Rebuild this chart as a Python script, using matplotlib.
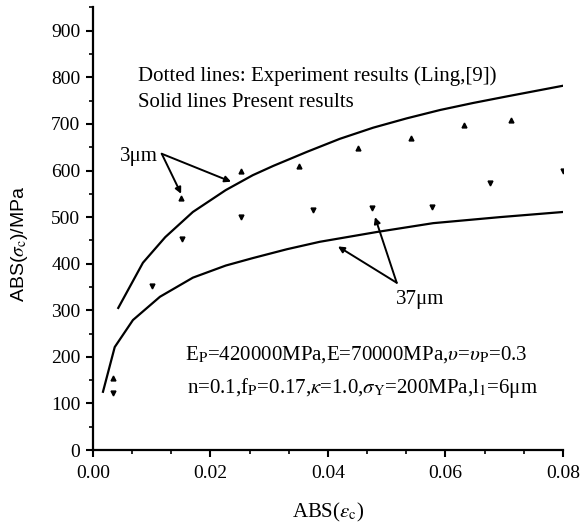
import matplotlib
matplotlib.use("Agg")
import matplotlib.pyplot as plt
from matplotlib.ticker import MultipleLocator

plt.rcParams['font.family'] = ['Liberation Serif', 'DejaVu Serif']
plt.rcParams['mathtext.fontset'] = 'stix'

# Solid line: present results, 3 um
x_3um = [0.0043, 0.0085, 0.0123, 0.0170, 0.0226, 0.0272, 0.0307, 0.0364, 0.0420,
         0.0477, 0.0534, 0.0591, 0.0647, 0.0704, 0.0800]
y_3um = [305, 402, 457, 511, 558, 590, 610, 640, 668, 692, 712, 730, 745, 759, 782]
# Solid line: present results, 37 um
x_37um = [0.0017, 0.0037, 0.0068, 0.0114, 0.0170, 0.0226, 0.0272, 0.0330, 0.0386,
          0.0483, 0.0579, 0.0693, 0.0800]
y_37um = [125, 221, 279, 329, 370, 396, 412, 431, 447, 468, 487, 500, 511]
# Experiment (Ling [9]), 3 um (up triangles)
xe_3um = [0.0034, 0.0150, 0.0252, 0.0351, 0.0451, 0.0541, 0.0631, 0.0711]
ye_3um = [155, 541, 599, 610, 649, 670, 698, 709]
# Experiment (Ling [9]), 37 um (down triangles)
xe_37um = [0.0034, 0.0101, 0.0151, 0.0252, 0.0375, 0.0475, 0.0577, 0.0676, 0.0800]
ye_37um = [122, 352, 453, 501, 515, 519, 522, 574, 598]

x_ticks = [0.00, 0.02, 0.04, 0.06, 0.08]
x_ticklabels = ['0.00', '0.02', '0.04', '0.06', '0.08']
y_ticks = [0, 100, 200, 300, 400, 500, 600, 700, 800, 900]

fig = plt.figure(figsize=(5.83, 5.24), dpi=100)
ax = fig.add_axes([0.1595, 0.1412, 0.8062, 0.8454])

ax.plot(x_3um, y_3um, color='black', lw=1.6, solid_joinstyle='round')
ax.plot(x_37um, y_37um, color='black', lw=1.6, solid_joinstyle='round')
ax.plot(xe_3um, ye_3um, linestyle='none', marker='^', color='black', markersize=3.5)
ax.plot(xe_37um, ye_37um, linestyle='none', marker='v', color='black', markersize=3.5)

ax.set_xlim(0, 0.08)
ax.set_ylim(0, 951)
ax.spines['top'].set_visible(False)
ax.spines['right'].set_visible(False)
ax.spines['left'].set_linewidth(1.6)
ax.spines['bottom'].set_linewidth(1.6)

ax.set_xticks(x_ticks)
ax.set_xticklabels(x_ticklabels)
ax.set_yticks(y_ticks)
ax.xaxis.set_minor_locator(MultipleLocator(0.02 / 3))
ax.yaxis.set_minor_locator(MultipleLocator(50))
ax.tick_params(which='major', direction='out', length=5, width=1.5, labelsize=14, pad=4)
ax.tick_params(axis='x', which='major', pad=6)
ax.tick_params(which='minor', direction='out', length=3, width=1.2)

ax.set_xlabel(r'ABS($\varepsilon_\mathrm{c}$)', fontsize=15)
ax.xaxis.set_label_coords(0.5, -0.115)
ax.set_ylabel(r'ABS($\sigma_\mathrm{c}$)/MPa', fontsize=14, family=['Liberation Sans', 'DejaVu Sans'])
ax.yaxis.set_label_coords(-0.135, 0.465)

ax.text(0.0077, 803, 'Dotted lines: Experiment results (Ling,[9])', fontsize=15, va='center', ha='left')
ax.text(0.0077, 747, 'Solid lines Present results', fontsize=15, va='center', ha='left')

ax.text(0.0157, 204, r'E$_\mathrm{P}$=420000MPa,E=70000MPa,$\upsilon$=$\upsilon_\mathrm{P}$=0.3',
        fontsize=15, va='center', ha='left')
ax.text(0.0160, 133, r'n=0.1,f$_\mathrm{P}$=0.17,$\kappa$=1.0,$\sigma_\mathrm{Y}$=200MPa,l$_\mathrm{1}$=6μm',
        fontsize=15, va='center', ha='left')

arrow = dict(arrowstyle='-|>', mutation_scale=9, lw=1.4, color='black', shrinkA=0, shrinkB=0)
ax.text(0.0111, 630, '3μm', fontsize=15, va='center', ha='right')
for tx, ty in [(0.0150, 550), (0.0235, 576)]:
    ax.annotate('', xy=(tx, ty), xytext=(0.0117, 636), arrowprops=arrow)
ax.text(0.0557, 324, '37μm', fontsize=15, va='center', ha='center')
for tx, ty in [(0.0417, 437), (0.0480, 500)]:
    ax.annotate('', xy=(tx, ty), xytext=(0.0517, 359), arrowprops=arrow)

fig.savefig('out.png', dpi=100)
